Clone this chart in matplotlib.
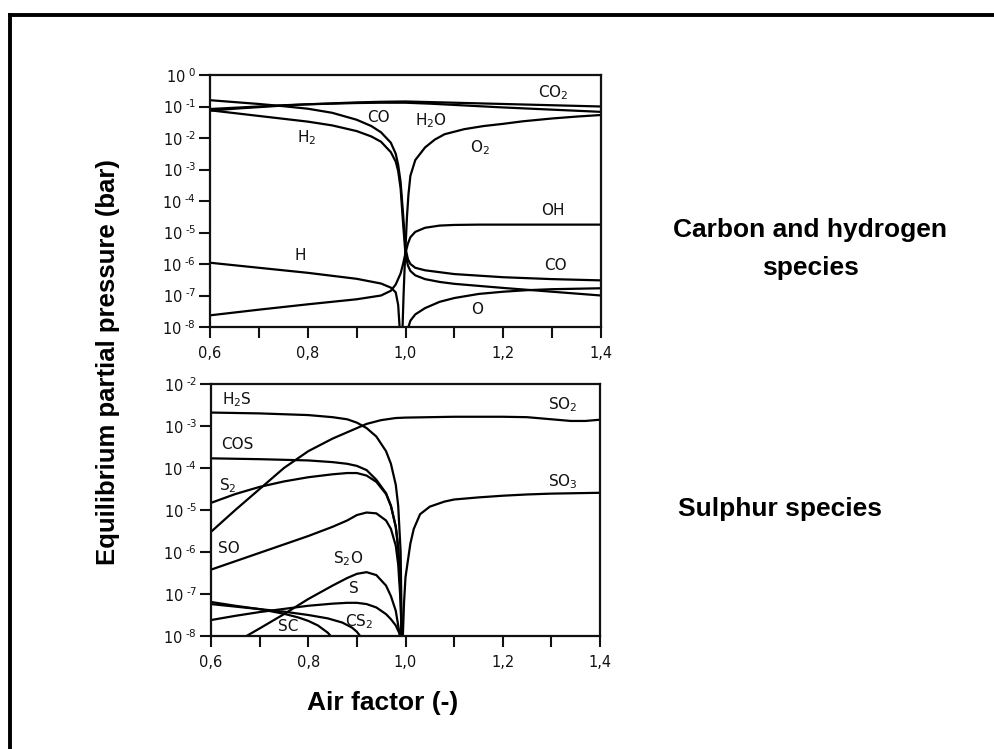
import numpy as np
import matplotlib
matplotlib.use("Agg")
import matplotlib.pyplot as plt
from matplotlib.ticker import FixedLocator, FuncFormatter
from matplotlib.lines import Line2D

plt.rcParams['font.family'] = ['DejaVu Sans']
plt.rcParams['mathtext.default'] = 'regular'

# ---------------- data: log10(partial pressure / bar) ----------------
# Top panel: carbon and hydrogen species
x_CO = [0.60, 0.65, 0.70, 0.75, 0.80, 0.85, 0.90, 0.93, 0.95, 0.97, 0.98, 0.985, 0.99, 0.995,
        1.00, 1.005, 1.01, 1.02, 1.04, 1.07, 1.10, 1.20, 1.30, 1.40]
CO = [-0.80, -0.86, -0.92, -0.99, -1.07, -1.20, -1.42, -1.62, -1.82, -2.15, -2.50, -2.85, -3.40, -4.40,
      -5.50, -5.85, -6.00, -6.12, -6.20, -6.26, -6.32, -6.42, -6.48, -6.52]
H2 = [-1.12, -1.21, -1.30, -1.39, -1.48, -1.60, -1.78, -1.95, -2.12, -2.45, -2.75, -3.05, -3.60, -4.70,
      -5.70, -6.05, -6.22, -6.36, -6.48, -6.57, -6.63, -6.76, -6.88, -7.00]

x_maj = [0.60, 0.65, 0.70, 0.75, 0.80, 0.85, 0.90, 0.95, 1.00, 1.05, 1.10, 1.20, 1.30, 1.40]
CO2 = [-1.13, -1.07, -1.02, -0.97, -0.93, -0.90, -0.87, -0.85, -0.84, -0.86, -0.88, -0.92, -0.96, -1.00]
H2O = [-1.08, -1.04, -1.00, -0.96, -0.93, -0.91, -0.89, -0.88, -0.88, -0.91, -0.95, -1.03, -1.10, -1.17]

x_O2 = [0.993, 0.996, 0.998, 1.000, 1.003, 1.006, 1.01, 1.02, 1.04, 1.06, 1.08, 1.12, 1.16, 1.20,
        1.24, 1.30, 1.35, 1.40]
O2 = [-8.5, -7.0, -6.2, -5.5, -4.5, -3.8, -3.2, -2.7, -2.3, -2.05, -1.88, -1.72, -1.62, -1.55,
      -1.47, -1.38, -1.32, -1.27]

x_OH = [0.60, 0.70, 0.80, 0.90, 0.95, 0.97, 0.98, 0.99, 0.995, 1.00, 1.005, 1.01, 1.02, 1.04,
        1.07, 1.10, 1.15, 1.20, 1.30, 1.40]
OH = [-7.63, -7.45, -7.28, -7.12, -7.00, -6.85, -6.65, -6.30, -6.00, -5.65, -5.35, -5.15, -4.98, -4.85,
      -4.78, -4.76, -4.75, -4.75, -4.75, -4.75]

x_H = [0.60, 0.70, 0.80, 0.90, 0.95, 0.97, 0.98, 0.985, 0.99]
H = [-5.96, -6.12, -6.28, -6.47, -6.62, -6.75, -6.90, -7.30, -8.50]

x_O = [1.003, 1.006, 1.01, 1.02, 1.04, 1.07, 1.10, 1.15, 1.20, 1.25, 1.30, 1.40]
O = [-8.5, -8.0, -7.8, -7.6, -7.4, -7.2, -7.08, -6.95, -6.88, -6.83, -6.80, -6.77]

# Bottom panel: sulphur species
x_H2S = [0.60, 0.70, 0.80, 0.85, 0.88, 0.90, 0.92, 0.94, 0.96, 0.97, 0.98, 0.985, 0.99, 0.993]
H2S = [-2.68, -2.70, -2.74, -2.79, -2.84, -2.92, -3.05, -3.25, -3.60, -3.90, -4.40, -4.90, -6.00, -8.5]
COS = [-3.77, -3.79, -3.82, -3.86, -3.90, -3.95, -4.05, -4.28, -4.60, -4.90, -5.40, -5.90, -7.0, -8.5]

x_SO2 = [0.60, 0.65, 0.70, 0.75, 0.80, 0.85, 0.88, 0.90, 0.92, 0.95, 0.98, 1.00, 1.10, 1.20,
         1.25, 1.30, 1.34, 1.37, 1.40]
SO2 = [-5.52, -5.00, -4.50, -4.00, -3.60, -3.30, -3.15, -3.05, -2.95, -2.86, -2.81, -2.80, -2.78, -2.78,
       -2.79, -2.84, -2.88, -2.88, -2.85]

x_S2 = [0.60, 0.65, 0.70, 0.75, 0.80, 0.85, 0.88, 0.90, 0.92, 0.94, 0.96, 0.97, 0.98, 0.985, 0.99, 0.993]
S2 = [-4.83, -4.62, -4.45, -4.32, -4.22, -4.15, -4.12, -4.12, -4.18, -4.33, -4.62, -4.90, -5.40, -5.90, -7.0, -8.5]
SO = [-6.42, -6.22, -6.02, -5.82, -5.62, -5.40, -5.25, -5.12, -5.06, -5.08, -5.25, -5.45, -5.85, -6.30, -7.2, -8.5]

x_S2O = [0.673, 0.70, 0.75, 0.80, 0.85, 0.88, 0.90, 0.92, 0.94, 0.96, 0.97, 0.98, 0.99]
S2O = [-8.0, -7.82, -7.48, -7.12, -6.80, -6.62, -6.52, -6.48, -6.55, -6.80, -7.05, -7.40, -8.10]

x_S = [0.60, 0.65, 0.70, 0.74, 0.80, 0.85, 0.88, 0.90, 0.92, 0.94, 0.96, 0.97, 0.98, 0.99, 0.993]
S = [-7.62, -7.52, -7.43, -7.37, -7.28, -7.23, -7.21, -7.21, -7.24, -7.32, -7.48, -7.60, -7.75, -8.0, -8.5]

x_SC = [0.60, 0.65, 0.70, 0.75, 0.78, 0.80, 0.82, 0.84, 0.85]
SC = [-7.19, -7.28, -7.36, -7.47, -7.56, -7.64, -7.75, -7.92, -8.05]

x_CS2 = [0.60, 0.65, 0.70, 0.75, 0.80, 0.84, 0.87, 0.89, 0.90, 0.91]
CS2 = [-7.24, -7.30, -7.36, -7.42, -7.50, -7.58, -7.68, -7.80, -7.90, -8.05]

x_SO3 = [0.993, 0.997, 1.000, 1.005, 1.01, 1.017, 1.03, 1.05, 1.08, 1.10, 1.15, 1.20, 1.25, 1.30, 1.40]
SO3 = [-8.5, -7.2, -6.6, -6.2, -5.8, -5.45, -5.10, -4.92, -4.80, -4.75, -4.70, -4.66, -4.63, -4.61, -4.59]

top_series = [(x_CO, CO), (x_CO, H2), (x_maj, CO2), (x_maj, H2O), (x_O2, O2),
              (x_OH, OH), (x_H, H), (x_O, O)]
bot_series = [(x_H2S, H2S), (x_H2S, COS), (x_SO2, SO2), (x_S2, S2), (x_S2, SO),
              (x_S2O, S2O), (x_S, S), (x_SC, SC), (x_CS2, CS2), (x_SO3, SO3)]

# labels: (text, x, log10 p)
top_labels = [("CO$_2$", 1.302, -0.56), ("CO", 0.944, -1.35), ("H$_2$O", 1.052, -1.45),
              ("H$_2$", 0.797, -1.98), ("O$_2$", 1.153, -2.30), ("OH", 1.302, -4.30),
              ("H", 0.785, -5.73), ("CO", 1.306, -6.05), ("O", 1.146, -7.45)]
bot_labels = [("H$_2$S", 0.654, -2.38), ("SO$_2$", 1.324, -2.50), ("COS", 0.655, -3.43),
              ("S$_2$", 0.634, -4.41), ("SO$_3$", 1.324, -4.33), ("SO", 0.636, -5.92),
              ("S$_2$O", 0.882, -6.16), ("S", 0.894, -6.88), ("CS$_2$", 0.905, -7.67),
              ("SC", 0.758, -7.78)]

x_ticks = [0.6, 0.7, 0.8, 0.9, 1.0, 1.1, 1.2, 1.3, 1.4]
x_ticklabels = ["0,6", "", "0,8", "", "1,0", "", "1,2", "", "1,4"]

# ---------------- figure ----------------
W, Hh = 994, 749
fig = plt.figure(figsize=(W / 100, Hh / 100), dpi=100)
fig.patch.set_facecolor('white')


def box(x0, x1, y0, y1):
    return [x0 / W, 1 - y1 / Hh, (x1 - x0) / W, (y1 - y0) / Hh]


ax1 = fig.add_axes(box(210, 601, 75, 327))
ax2 = fig.add_axes(box(211, 600, 384, 636))


def fmt_exp(v, p):
    e = int(round(np.log10(v)))
    s = ('\u2010%d' % -e) if e < 0 else '%d' % e
    return r'$10^{\ %s}$' % s


def style(ax, ymin_exp, ymax_exp):
    ax.set_yscale('log')
    ax.set_xlim(0.6, 1.4)
    ax.set_ylim(10.0 ** ymin_exp, 10.0 ** ymax_exp)
    for sp in ax.spines.values():
        sp.set_linewidth(1.6)
        sp.set_color('#111111')
    ax.xaxis.set_major_locator(FixedLocator(x_ticks))
    ax.set_xticklabels(x_ticklabels)
    exps = list(range(ymin_exp, ymax_exp + 1))
    ax.yaxis.set_major_locator(FixedLocator([10.0 ** e for e in exps]))
    ax.yaxis.set_minor_locator(FixedLocator([]))
    ax.yaxis.set_major_formatter(FuncFormatter(fmt_exp))
    ax.tick_params(axis='both', which='major', direction='out', length=8, width=1.5,
                   labelsize=10.5, colors='#111111', pad=2)
    ax.tick_params(axis='x', pad=6)


style(ax1, -8, 0)
style(ax2, -8, -2)

for ax, series in ((ax1, top_series), (ax2, bot_series)):
    for xs, ls in series:
        ax.plot(xs, 10.0 ** np.array(ls), color='black', lw=1.6, solid_capstyle='butt')

for ax, labels in ((ax1, top_labels), (ax2, bot_labels)):
    for t, xv, lv in labels:
        ax.text(xv, 10.0 ** lv, t, ha='center', va='center', fontsize=11, color='#111111')

bold = dict(family='Liberation Sans', fontweight='bold', color='black')
fig.text(108 / W, 1 - 362 / Hh, "Equilibrium partial pressure (bar)", rotation=90,
         ha='center', va='center', fontsize=18.5, **bold)
fig.text(383 / W, 1 - 710 / Hh, "Air factor (-)", ha='center', va='baseline', fontsize=19, **bold)
fig.text(810 / W, 1 - 237 / Hh, "Carbon and hydrogen", ha='center', va='baseline', fontsize=19, **bold)
fig.text(810 / W, 1 - 275 / Hh, "species", ha='center', va='baseline', fontsize=19, **bold)
fig.text(780 / W, 1 - 516 / Hh, "Sulphur species", ha='center', va='baseline', fontsize=19, **bold)

# outer frame (only top and left edges visible in the crop)
fig.add_artist(Line2D([9.5 / W, 9.5 / W], [0, 1 - 15 / Hh], transform=fig.transFigure,
                      color='black', lw=2.8))
fig.add_artist(Line2D([9.5 / W, 1], [1 - 15 / Hh, 1 - 15 / Hh], transform=fig.transFigure,
                      color='black', lw=2.8))

fig.savefig('out.png', dpi=100, facecolor='white')
